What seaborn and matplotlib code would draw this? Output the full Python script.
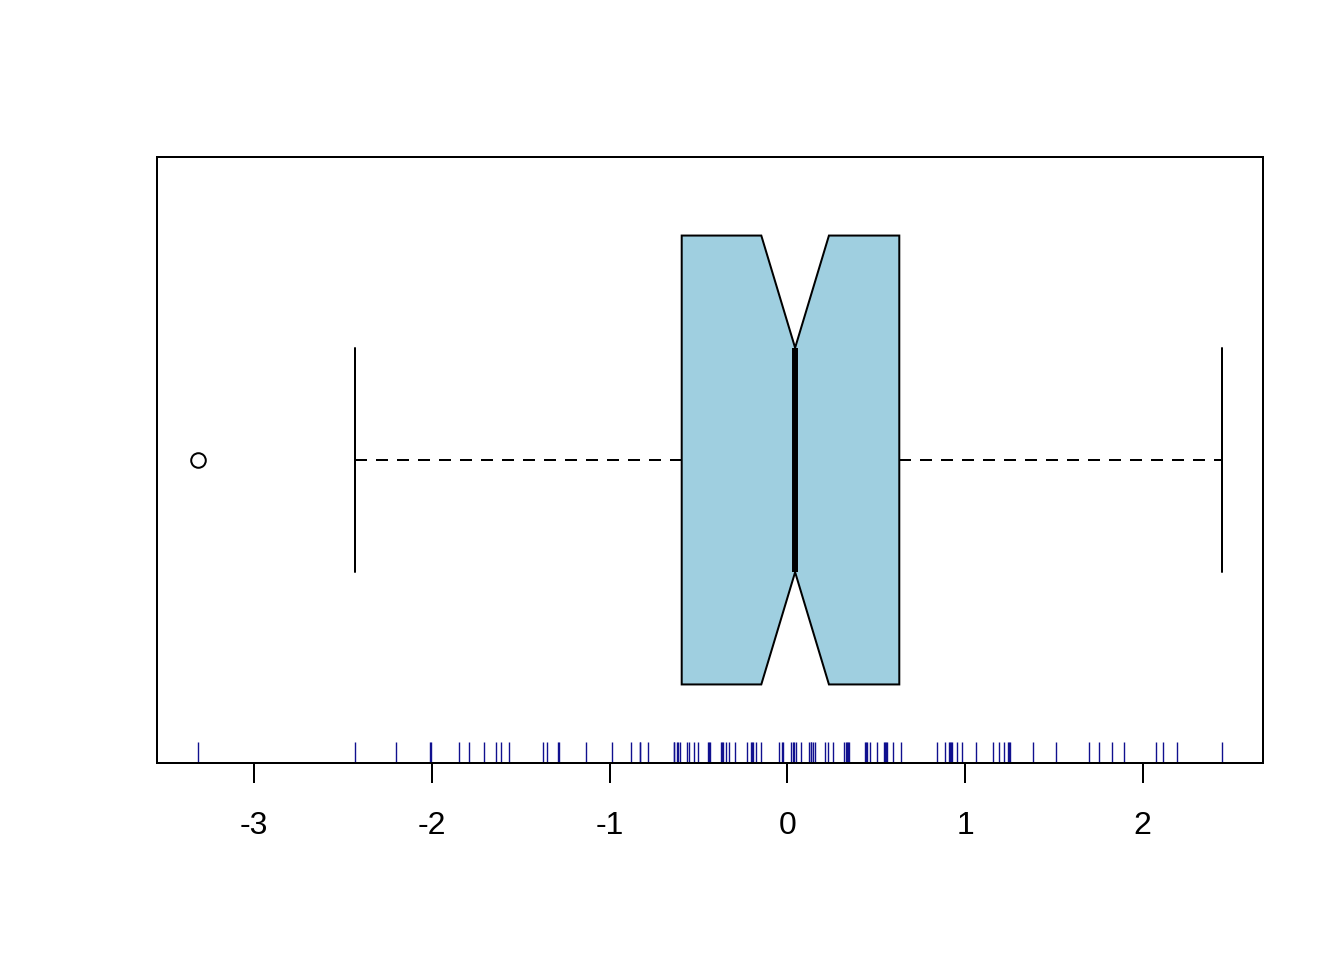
import numpy as np
import pandas as pd
import matplotlib
matplotlib.use("Agg")
import matplotlib.pyplot as plt
import seaborn as sns

# Observations read from the rug (includes one low outlier)
values = [
    -3.317, -2.434,
    -2.200, -2.004, -2.010, -1.846, -1.792, -1.707, -1.639, -1.610, -1.565,
    -1.376, -1.352, -1.290, -1.285, -1.131,
    -0.988, -0.879, -0.830, -0.829, -0.784, -0.640, -0.637, -0.619, -0.615,
    -0.605, -0.564, -0.556, -0.524, -0.505, -0.445, -0.440, -0.438, -0.371,
    -0.368, -0.365, -0.344, -0.329, -0.296, -0.228, -0.202, -0.200, -0.194,
    -0.175, -0.151, -0.048, -0.030, -0.027, 0.020, 0.029, 0.038, 0.049,
    0.077, 0.120, 0.133, 0.135, 0.146, 0.156,
    0.213, 0.227, 0.257, 0.321, 0.331, 0.335, 0.340, 0.348, 0.435, 0.445,
    0.450, 0.463, 0.505, 0.546, 0.550, 0.556, 0.563, 0.593, 0.642, 0.844,
    0.885, 0.909, 0.915, 0.920, 0.927, 0.953, 0.984, 1.059, 1.156, 1.190,
    1.218, 1.244, 1.247, 1.250, 1.381,
    1.512, 1.700, 1.755, 1.825, 1.896, 2.074, 2.111, 2.194, 2.446,
]
tick_values = [-3, -2, -1, 0, 1, 2]
tick_labels = ["-3", "-2", "-1", "0", "1", "2"]

sns.set_theme(style="white")
plt.rcParams["font.family"] = ["Liberation Sans", "DejaVu Sans"]

fig = plt.figure(figsize=(13.44, 9.6), dpi=100)
ax = fig.add_axes([157 / 1344, 1 - 763 / 960, (1263 - 157) / 1344, (763 - 157) / 960])

lw = 1.44
sns.boxplot(
    x=values, orient="h", ax=ax, notch=True, width=0.8, whis=1.6,
    color="#9FCFE0", saturation=1, linecolor="black", linewidth=lw,
    boxprops=dict(edgecolor="black", linewidth=lw),
    whiskerprops=dict(color="black", linewidth=lw, linestyle=(0, (6, 4.5))),
    capprops=dict(color="black", linewidth=lw),
    medianprops=dict(color="black", linewidth=4.3, solid_capstyle="butt"),
    flierprops=dict(marker="o", markersize=10.5, markerfacecolor="none",
                    markeredgecolor="black", markeredgewidth=lw),
)

sns.rugplot(x=values, ax=ax, height=0.035, color="#10108F", lw=0.8,
            expand_margins=False)

vmin, vmax = min(values), max(values)
r = vmax - vmin
ax.set_xlim(vmin - 0.04 * r, vmax + 0.04 * r)
ax.set_ylim(0.54, -0.54)

ax.set_xticks(tick_values)
ax.set_xticklabels(tick_labels)
ax.set_yticks([])
ax.tick_params(axis="x", direction="out", length=14.4, width=lw, pad=20.5,
               labelsize=23, colors="black", bottom=True)
for s in ax.spines.values():
    s.set_visible(True)
    s.set_color("black")
    s.set_linewidth(lw)
ax.set_xlabel("")
ax.set_ylabel("")

fig.savefig("out.png", dpi=100, facecolor="white")
